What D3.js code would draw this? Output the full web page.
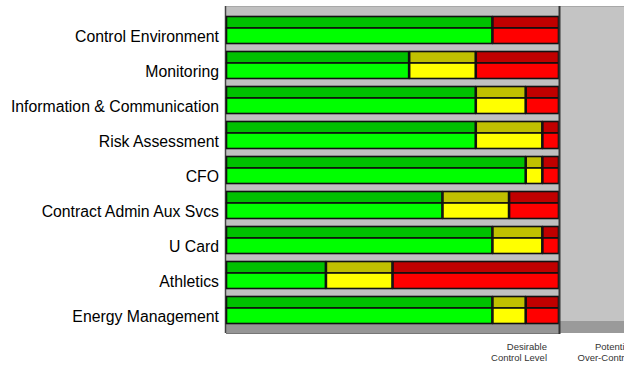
<!DOCTYPE html>
<html>
<head>
<meta charset="utf-8">
<script src="https://cdn.jsdelivr.net/npm/d3@7/dist/d3.min.js"></script>
<style>
  html, body { margin: 0; padding: 0; background: #fff; }
  svg { display: block; }
  text { font-family: "Liberation Sans", Arial, sans-serif; }
</style>
</head>
<body>
<svg id="chart" width="624" height="366"></svg>
<script>
// Control assessment by area: units of green / yellow / red on a 0–20 scale
const categories = [
  "Control Environment", "Monitoring", "Information & Communication",
  "Risk Assessment", "CFO", "Contract Admin Aux Svcs", "U Card",
  "Athletics", "Energy Management"
];
const greenValues  = [16, 11, 15, 15, 18, 13, 16, 6, 16];
const yellowValues = [0, 4, 3, 4, 1, 4, 3, 4, 2];
const redValues    = [4, 5, 2, 1, 1, 3, 1, 10, 2];
const zoneLabels = [
  { lines: ["Desirable", "Control Level"], at: 20 },
  { lines: ["Potential", "Over-Control"], at: 25.1 }
];

const svg = d3.select("#chart");

const x = d3.scaleLinear().domain([0, 20]).range([226, 559]);
const xRight = 650;
const y = d3.scaleBand().domain(categories).range([16, 16 + 35 * categories.length]);
const plotTop = 7, plotBottom = 333;
const stripTopL = 324, stripTopR = 321;

const palette = {
  green:  ["#00c000", "#00ff00"],
  yellow: ["#c0c000", "#ffff00"],
  red:    ["#c00000", "#ff0000"]
};

// background panels
svg.append("rect").attr("x", x(0)).attr("y", plotTop)
  .attr("width", x(20) - x(0)).attr("height", plotBottom - plotTop)
  .attr("fill", "#c0c0c0");
svg.append("rect").attr("x", x(20)).attr("y", plotTop)
  .attr("width", xRight - x(20)).attr("height", plotBottom - plotTop)
  .attr("fill", "#c4c4c4");
// bottom strips
svg.append("rect").attr("x", x(0)).attr("y", stripTopL)
  .attr("width", x(20) - x(0)).attr("height", plotBottom - stripTopL)
  .attr("fill", "#969696");
svg.append("rect").attr("x", x(20)).attr("y", stripTopR)
  .attr("width", xRight - x(20)).attr("height", plotBottom - stripTopR)
  .attr("fill", "#9a9a9a");

// frame lines
svg.append("line").attr("x1", x(0) - 0.5).attr("x2", xRight).attr("y1", plotTop - 0.5).attr("y2", plotTop - 0.5)
  .attr("stroke", "#a8a8a8").attr("stroke-width", 1);
svg.append("line").attr("x1", x(0) - 0.5).attr("x2", x(0) - 0.5).attr("y1", plotTop - 1).attr("y2", plotBottom)
  .attr("stroke", "#444").attr("stroke-width", 1.5);
svg.append("line").attr("x1", x(0)).attr("x2", x(20)).attr("y1", plotBottom + 0.5).attr("y2", plotBottom + 0.5)
  .attr("stroke", "#777").attr("stroke-width", 1);

// stacked segments per row
const rows = categories.map((c, i) => {
  const g = greenValues[i], yl = yellowValues[i], r = redValues[i];
  return { cat: c, segs: [
    { key: "green", x0: 0, x1: g },
    { key: "yellow", x0: g, x1: g + yl },
    { key: "red", x0: g + yl, x1: g + yl + r }
  ].filter(s => s.x1 > s.x0) };
});

const rowG = svg.selectAll("g.row").data(rows).join("g")
  .attr("class", "row")
  .attr("transform", d => `translate(0,${y(d.cat)})`);

// upper (shaded) bar and lower (bright) bar
[{ idx: 0, y0: 0.5, h: 11.5 }, { idx: 1, y0: 12, h: 15.5 }].forEach(layer => {
  rowG.selectAll(`rect.l${layer.idx}`).data(d => d.segs).join("rect")
    .attr("class", `l${layer.idx}`)
    .attr("x", s => x(s.x0) + 0.5)
    .attr("y", layer.y0)
    .attr("width", s => x(s.x1) - x(s.x0) - 1)
    .attr("height", layer.h)
    .attr("fill", s => palette[s.key][layer.idx])
    .attr("stroke", "#111")
    .attr("stroke-width", 1.6);
});

// divider between panels
svg.append("line").attr("x1", x(20) + 0.5).attr("x2", x(20) + 0.5).attr("y1", plotTop - 1).attr("y2", plotBottom + 1)
  .attr("stroke", "#333").attr("stroke-width", 2);

// category labels
svg.selectAll("text.cat").data(categories).join("text")
  .attr("class", "cat")
  .attr("x", 219)
  .attr("y", d => y(d) + 20)
  .attr("dy", "0.35em")
  .attr("text-anchor", "end")
  .attr("font-size", 15.8)
  .attr("fill", "#000")
  .text(d => d);

// zone labels under the panels
zoneLabels.forEach(z => {
  const t = svg.append("text")
    .attr("text-anchor", "end")
    .attr("font-size", 9.5)
    .attr("fill", "#333");
  z.lines.forEach((ln, k) => {
    t.append("tspan").attr("x", x(z.at) - 12).attr("y", 350 + k * 11).text(ln);
  });
});
</script>
</body>
</html>
